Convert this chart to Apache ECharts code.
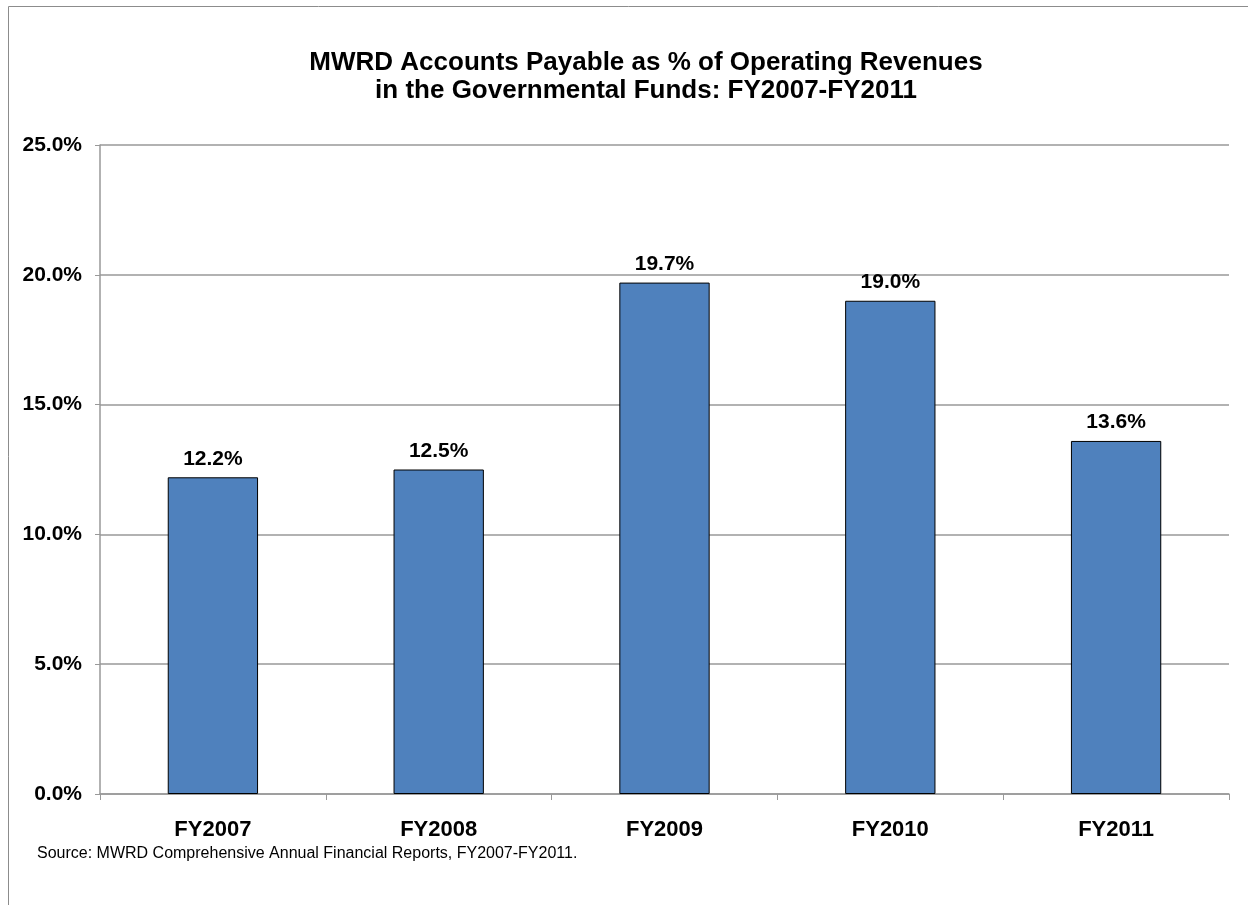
<!DOCTYPE html>
<html>
<head>
<meta charset="utf-8">
<script src="https://cdn.jsdelivr.net/npm/echarts@6/dist/echarts.min.js"></script>
<style>
  html, body { margin: 0; padding: 0; background: #fff; }
  #chart { width: 1248px; height: 905px; }
</style>
</head>
<body>
<div id="chart"></div>
<script>
const YEARS = ['FY2007', 'FY2008', 'FY2009', 'FY2010', 'FY2011']
const PAYABLE_PCT = [12.2, 12.5, 19.7, 19.0, 13.6]
const Y_MAX = 25
const Y_STEP = 5

const FONT = '"Liberation Sans", Arial, sans-serif'

const chart = echarts.init(document.getElementById('chart'))
chart.setOption({
  animation: false,
  textStyle: { fontFamily: FONT },
  title: {
    text: 'MWRD Accounts Payable as % of Operating Revenues\nin the Governmental Funds: FY2007-FY2011',
    left: 641,
    top: 44,
    textAlign: 'center',
    textStyle: { fontFamily: FONT, fontSize: 26, fontWeight: 'bold', color: '#000', lineHeight: 28 },
  },
  graphic: [
    {
      type: 'rect',
      shape: { x: 8.5, y: 6.5, width: 1300, height: 1000 },
      style: { fill: 'none', stroke: '#8c8c8c', lineWidth: 1 },
      silent: true,
    },
    {
      type: 'text',
      left: 37,
      top: 846,
      style: {
        text: 'Source: MWRD Comprehensive Annual Financial Reports, FY2007-FY2011.',
        font: '16px ' + FONT,
        fill: '#000',
      },
    },
  ],
  grid: { left: 100, right: 19, top: 145, bottom: 111, containLabel: false },
  xAxis: {
    type: 'category',
    data: YEARS,
    axisLine: { lineStyle: { color: '#999', width: 1.5 } },
    axisTick: { show: true, length: 6, lineStyle: { color: '#999' } },
    axisLabel: { color: '#000', fontSize: 22, fontWeight: 'bold', margin: 25, fontFamily: FONT },
  },
  yAxis: {
    type: 'value',
    min: 0,
    max: Y_MAX,
    interval: Y_STEP,
    axisLine: { show: true, lineStyle: { color: '#999', width: 1.5 } },
    axisTick: { show: true, length: 5, lineStyle: { color: '#999' } },
    splitLine: { lineStyle: { color: '#999', width: 1.5 } },
    axisLabel: {
      color: '#000',
      fontSize: 21,
      fontWeight: 'bold',
      margin: 18,
      fontFamily: FONT,
      formatter: (v) => v.toFixed(1) + '%',
    },
  },
  series: [
    {
      type: 'bar',
      data: PAYABLE_PCT,
      barWidth: '40%',
      itemStyle: { color: '#4f81bd', borderColor: '#000', borderWidth: 1 },
      label: {
        show: true,
        position: 'top',
        distance: 8,
        color: '#000',
        fontSize: 21,
        fontWeight: 'bold',
        fontFamily: FONT,
        formatter: (p) => p.value.toFixed(1) + '%',
      },
    },
  ],
})
</script>
</body>
</html>
